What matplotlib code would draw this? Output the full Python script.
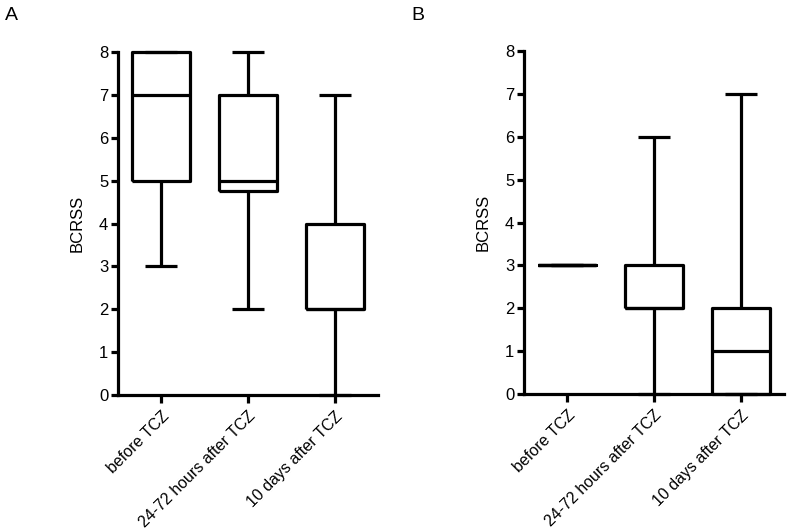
import matplotlib
matplotlib.use('Agg')
import matplotlib.pyplot as plt

plt.rcParams['font.family'] = ['Liberation Sans', 'DejaVu Sans']

# groups on the x axis
categories = ['before TCZ', '24-72 hours after TCZ', '10 days after TCZ']

# box stats per panel: min, q1, median, q3, max
panel_a_min = [3, 2, 0]
panel_a_q1 = [5, 4.75, 2]
panel_a_med = [7, 5, 2]
panel_a_q3 = [8, 7, 4]
panel_a_max = [8, 8, 7]

panel_b_min = [3, 0, 0]
panel_b_q1 = [3, 2, 0]
panel_b_med = [3, 2, 1]
panel_b_q3 = [3, 3, 2]
panel_b_max = [3, 6, 7]

y_ticks = [0, 1, 2, 3, 4, 5, 6, 7, 8]

lw = 2.3


def make_stats(mins, q1s, meds, q3s, maxs):
    stats = []
    for lo, q1, med, q3, hi in zip(mins, q1s, meds, q3s, maxs):
        stats.append(dict(whislo=lo, q1=q1, med=med, q3=q3, whishi=hi, fliers=[]))
    return stats


def draw_panel(ax, stats):
    pos = list(range(1, len(categories) + 1))
    line = dict(color='black', linewidth=lw)
    arts = ax.bxp(stats, positions=pos, widths=0.67, capwidths=0.37,
                  showfliers=False, boxprops=line, whiskerprops=line,
                  capprops=line, medianprops=line)
    for key in arts:
        for a in arts[key]:
            a.set_clip_on(False)
            if hasattr(a, 'set_solid_capstyle'):
                a.set_solid_capstyle('butt')
    ax.set_xlim(0.5, 3.5)
    ax.set_ylim(0, 8)
    ax.set_yticks(y_ticks)
    ax.set_xticks(pos)
    ax.set_xticklabels(categories, rotation=45, ha='right', va='top',
                       rotation_mode='anchor', fontsize=11.5)
    ax.tick_params(axis='y', labelsize=12, width=lw, length=5, pad=2)
    ax.tick_params(axis='x', width=lw, length=6, pad=4)
    ax.spines['top'].set_visible(False)
    ax.spines['right'].set_visible(False)
    ax.spines['left'].set_linewidth(lw)
    ax.spines['bottom'].set_linewidth(lw)
    ax.set_ylabel('BCRSS', fontsize=12, labelpad=10)


fig = plt.figure(figsize=(7.89, 5.30), dpi=100)
ax1 = fig.add_axes([0.1496, 0.2547, 0.3295, 0.647])
ax2 = fig.add_axes([0.664, 0.2566, 0.3295, 0.647])

draw_panel(ax1, make_stats(panel_a_min, panel_a_q1, panel_a_med, panel_a_q3, panel_a_max))
draw_panel(ax2, make_stats(panel_b_min, panel_b_q1, panel_b_med, panel_b_q3, panel_b_max))

# panel letters
fig.text(5 / 789, 1 - 16 / 530, 'A', fontsize=14, ha='left', va='center')
fig.text(411 / 789, 1 - 16 / 530, 'B', fontsize=14, ha='left', va='center')

fig.savefig('out.png', dpi=100)
